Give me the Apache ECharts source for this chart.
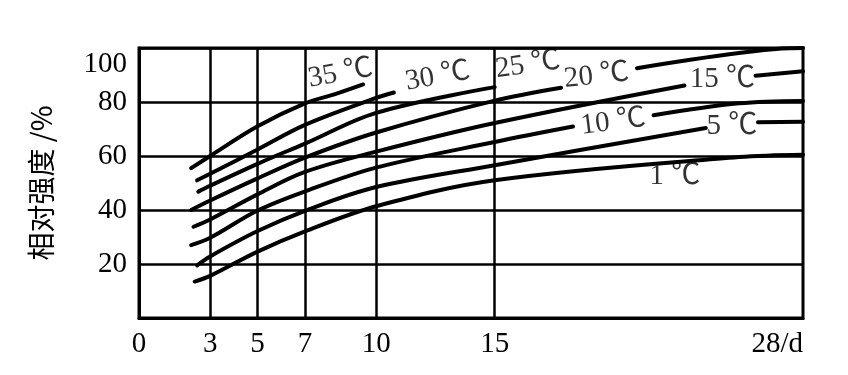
<!DOCTYPE html>
<html><head><meta charset="utf-8">
<script src="https://cdn.jsdelivr.net/npm/echarts@6/dist/echarts.min.js"></script>
<style>html,body{margin:0;padding:0;background:#fff}#c{width:848px;height:375px}</style>
</head><body><div id="c"></div>
<script>
// x axis (age, days)
const xTicks = [0, 3, 5, 7, 10, 15, 28];
const xTickLabels = ['0', '3', '5', '7', '10', '15', '28/d'];
const xGrid = [3, 5, 7, 10, 15];
// y axis (relative strength, %)
const yMin = 0, yMax = 100, yStep = 20;

// curves: [day, relative strength %]; null = gap where the label sits
const curve35 = [[2.2,55.5],[3,60],[5,71],[7,79.5],[8.3,83],[9.45,86.5]];
const curve30 = [[2.45,51],[3,53.4],[5,62.4],[7,71.5],[10,81.5],[10.75,83.5]];
const curve25 = [[2.5,46.8],[3,49],[5,57.1],[7,64.6],[10,76],[15,85.5]];
const curve20 = [[2.2,40],[3,43.5],[5,51.7],[7,59.4],[10,68.7],[15,80.5],[17.8,85.3],null,[21,92.5],[27.1,99.8],[28,100]];
const curve15 = [[2.3,33.8],[3,36.5],[5,45.8],[7,54.1],[10,61.6],[15,72.2],[23,86.1],null,[26,89.7],[28,91.4]];
const curve10 = [[2.2,27],[3,29.7],[5,39.8],[7,46.9],[10,55.7],[15,65.2],[18.3,70.9],null,[21.7,75.1],[25.3,79.5],[28,80.4]];
const curve5  = [[2.45,19.5],[3,22.8],[5,32.2],[7,39.7],[10,48.5],[15,56.6],[23.9,70.4],null,[26.1,72.5],[28,72.7]];
const curve1  = [[2.35,13.5],[3,15.6],[5,24.6],[7,32.1],[10,41.4],[15,51],[25.3,59.6],[28,60.5]];

const curveNames = ['35 ℃','30 ℃','25 ℃','20 ℃','15 ℃','10 ℃','5 ℃','1 ℃'];
// label anchors [day, %]
const labelDays = [8.5, 12.6, 16.4, 19.3, 24.6, 20.0, 25.0, 22.6];
const labelVals = [90.5, 89.4, 93.6, 89.6, 88.5, 72.5, 71.0, 52.5];
const labelTilt = [10, 10, 8, 6, 0, 7, 0, 0];

const curves = [curve35, curve30, curve25, curve20, curve15, curve10, curve5, curve1];
const toData = c => c.map(p => p === null ? ['-', '-'] : p);

const serif = '"Liberation Serif", "Times New Roman", "Noto Sans CJK SC", serif';
const series = curves.map((c, i) => ({
  type: 'line', name: curveNames[i], data: toData(c), smooth: 0.35,
  showSymbol: false, connectNulls: false, silent: true, z: 3,
  lineStyle: { color: '#000', width: 4, cap: 'round' }
}));
series[series.length - 1].markLine = {
  silent: true, symbol: 'none', label: { show: false }, z: 2,
  lineStyle: { color: '#000', width: 2.5, type: 'solid' },
  data: xGrid.map(v => ({ xAxis: v }))
};
series.push({
  type: 'scatter', symbolSize: 0, silent: true, z: 4,
  data: curveNames.map((n, i) => ({
    name: n, value: [labelDays[i], labelVals[i]],
    label: { rotate: labelTilt[i] }
  })),
  label: {
    show: true, position: 'inside', formatter: p => p.name,
    color: '#000', fontSize: 29, fontFamily: serif
  }
});

const chart = echarts.init(document.getElementById('c'), null, { renderer: 'canvas' });
chart.setOption({
  animation: false,
  backgroundColor: '#fff',
  grid: { left: 139, right: 45, top: 48, bottom: 57, show: true, borderColor: '#000', borderWidth: 3 },
  xAxis: {
    type: 'value', min: 0, max: 28, interval: 1,
    axisLine: { show: true, lineStyle: { color: '#000', width: 3 } },
    axisTick: { show: false }, splitLine: { show: false },
    axisLabel: {
      margin: 12, color: '#000', fontSize: 29, fontFamily: serif, alignMaxLabel: 'right',
      formatter: v => { const k = xTicks.indexOf(v); return k >= 0 ? xTickLabels[k] : ''; }
    }
  },
  yAxis: {
    type: 'value', min: yMin, max: yMax, interval: yStep,
    name: '相对强度 /%', nameLocation: 'middle', nameGap: 84, nameRotate: 90,
    nameTextStyle: { fontSize: 28, fontFamily: '"Noto Sans CJK SC", sans-serif', color: '#000' },
    axisLine: { show: true, lineStyle: { color: '#000', width: 3 } },
    axisTick: { show: false },
    splitLine: { show: true, lineStyle: { color: '#000', width: 2.5 } },
    axisLabel: {
      margin: 12, color: '#000', fontSize: 29, fontFamily: serif,
      formatter: v => v === yMin ? '' : (v === yMax ? '{t|' + v + '}' : String(v)),
      rich: { t: { color: '#000', fontSize: 29, fontFamily: serif, padding: [32, 0, 0, 0] } }
    }
  },
  series: series
});
</script></body></html>
